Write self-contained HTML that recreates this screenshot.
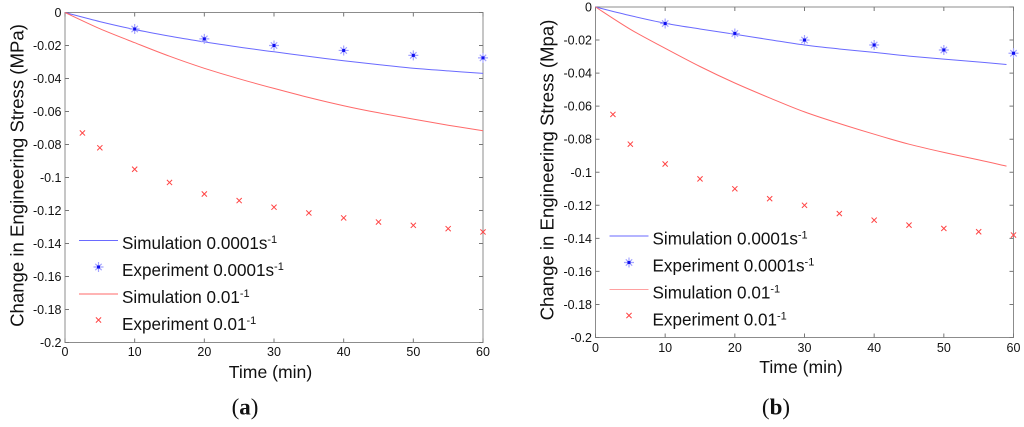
<!DOCTYPE html>
<html lang="en">
<head>
<meta charset="utf-8">
<title>Change in Engineering Stress</title>
<style>
html,body{margin:0;padding:0;background:#fff;}
svg{display:block;}
text{font-family:"Liberation Sans",sans-serif;fill:#111;}
.soft{filter:blur(0.25px);}
</style>
</head>
<body>
<svg id="chart" xmlns="http://www.w3.org/2000/svg" width="1024" height="427" viewBox="0 0 1024 427"></svg>
<script>
const xTickValues = [0, 10, 20, 30, 40, 50, 60];
const yTickValues = [0, -0.02, -0.04, -0.06, -0.08, -0.1, -0.12, -0.14, -0.16, -0.18, -0.2];
const yTickLabels = ['0', '-0.02', '-0.04', '-0.06', '-0.08', '-0.1', '-0.12', '-0.14', '-0.16', '-0.18', '-0.2'];

const simTimesA = [0, 5, 10, 15, 20, 25, 30, 35, 40, 45, 50, 55, 60];
const simSlowA = [0, -0.0055, -0.0103, -0.0143, -0.0178, -0.021, -0.0238, -0.0266, -0.0292, -0.0316, -0.0338, -0.0354, -0.0369];
const simFastA = [0, -0.0098, -0.0183, -0.0265, -0.0338, -0.0402, -0.046, -0.0515, -0.0565, -0.0608, -0.0646, -0.0683, -0.0717];
const expSlowTimesA = [10, 20, 30, 40, 50, 60];
const expSlowA = [-0.01, -0.016, -0.02, -0.023, -0.026, -0.0275];
const expFastTimesA = [2.5, 5, 10, 15, 20, 25, 30, 35, 40, 45, 50, 55, 60];
const expFastA = [-0.073, -0.082, -0.095, -0.103, -0.11, -0.114, -0.118, -0.1215, -0.1245, -0.127, -0.129, -0.131, -0.133];

const simTimesB = [0, 5, 10, 15, 20, 25, 30, 35, 40, 45, 50, 55, 59];
const simSlowB = [0, -0.0052, -0.0098, -0.0133, -0.0165, -0.0198, -0.023, -0.0254, -0.0275, -0.0297, -0.0315, -0.0333, -0.0348];
const simFastB = [0, -0.0135, -0.025, -0.036, -0.046, -0.055, -0.0635, -0.0705, -0.077, -0.083, -0.088, -0.0925, -0.0963];
const expSlowTimesB = [10, 20, 30, 40, 50, 60];
const expSlowB = [-0.01, -0.016, -0.02, -0.023, -0.026, -0.028];
const expFastTimesB = [2.5, 5, 10, 15, 20, 25, 30, 35, 40, 45, 50, 55, 60];
const expFastB = [-0.065, -0.083, -0.095, -0.104, -0.11, -0.116, -0.12, -0.125, -0.129, -0.132, -0.134, -0.136, -0.138];

const NS = 'http://www.w3.org/2000/svg';
const root = document.getElementById('chart');

function make(parent, tag, attrs, content) {
  const el = document.createElementNS(NS, tag);
  for (const k in attrs) el.setAttribute(k, attrs[k]);
  if (content !== undefined) el.textContent = content;
  parent.appendChild(el);
  return el;
}

function smoothPath(pts) {
  let d = `M${pts[0][0].toFixed(1)} ${pts[0][1].toFixed(1)}`;
  for (let i = 0; i < pts.length - 1; i++) {
    const p0 = pts[Math.max(i - 1, 0)];
    const p1 = pts[i];
    const p2 = pts[i + 1];
    const p3 = pts[Math.min(i + 2, pts.length - 1)];
    const c1x = p1[0] + (p2[0] - p0[0]) / 6;
    const c1y = p1[1] + (p2[1] - p0[1]) / 6;
    const c2x = p2[0] - (p3[0] - p1[0]) / 6;
    const c2y = p2[1] - (p3[1] - p1[1]) / 6;
    d += `C${c1x.toFixed(1)} ${c1y.toFixed(1)} ${c2x.toFixed(1)} ${c2y.toFixed(1)} ${p2[0].toFixed(1)} ${p2[1].toFixed(1)}`;
  }
  return d;
}

function drawStar(parent, cx, cy) {
  const g = make(parent, 'g', {});
  
  
  make(g, 'path', {d: `M${cx-5} ${cy}H${cx+5}M${cx} ${cy-5}V${cy+5}M${cx-3.2} ${cy-3.2}L${cx+3.2} ${cy+3.2}M${cx-3.2} ${cy+3.2}L${cx+3.2} ${cy-3.2}`, stroke: '#a4a4ff', 'stroke-width': 1.2, fill: 'none'});
  make(g, 'rect', {x: cx-1.5, y: cy-1.5, width: 3, height: 3, fill: '#1010f0'});
}

function drawCross(parent, cx, cy) {
  const p = make(parent, 'path', {d: `M${cx-2.6} ${cy-2.6}L${cx+2.6} ${cy+2.6}M${cx-2.6} ${cy+2.6}L${cx+2.6} ${cy-2.6}`, stroke: '#f44', 'stroke-width': 1, fill: 'none'});
  
  
}

function legendLabel(parent, x, y, main, name) {
  const t = make(parent, 'text', {x: x, y: y, 'font-size': 17.1});
  
  
  make(t, 'tspan', {}, main);
  make(t, 'tspan', {dy: -6, 'font-size': 11}, '-1');
}

function drawPlot(p) {
  const g = make(root, 'g', {class: 'soft'});
  
  
  const sx = v => p.left + (v / 60) * (p.right - p.left);
  const sy = v => p.top + (v / -0.2) * (p.bottom - p.top);

  const axes = make(g, 'g', {});
  
  
  make(axes, 'rect', {x: p.left, y: p.top, width: p.right - p.left, height: p.bottom - p.top, fill: 'none', stroke: '#8c8c8c', 'stroke-width': 1});

  xTickValues.forEach(v => {
    const x = sx(v);
    make(axes, 'path', {d: `M${x} ${p.bottom}v-4M${x} ${p.top}v4`, stroke: '#777', 'stroke-width': 1});
    const t = make(axes, 'text', {x: x, y: p.xTickY, 'font-size': 12.5, 'text-anchor': 'middle'}, String(v));
    
    
  });
  yTickValues.forEach((v, i) => {
    const y = sy(v);
    make(axes, 'path', {d: `M${p.left} ${y}h4M${p.right} ${y}h-4`, stroke: '#777', 'stroke-width': 1});
    const t = make(axes, 'text', {x: p.left - 3.5, y: y + 4.5, 'font-size': 12.5, 'text-anchor': 'end'}, yTickLabels[i]);
    
    
  });

  const toPts = (xs, ys) => xs.map((x, i) => [sx(x), sy(ys[i])]);
  const slowLine = make(g, 'path', {d: smoothPath(toPts(p.simTimes, p.simSlow)), fill: 'none', stroke: '#6a6aff', 'stroke-width': 1});
  
  
  const fastLine = make(g, 'path', {d: smoothPath(toPts(p.simTimes, p.simFast)), fill: 'none', stroke: '#ff6a6a', 'stroke-width': 1});
  
  

  p.expSlowTimes.forEach((x, i) => drawStar(g, sx(x), sy(p.expSlow[i])));
  p.expFastTimes.forEach((x, i) => drawCross(g, sx(x), sy(p.expFast[i])));

  const lg = make(g, 'g', {});
  
  
  const lx = p.left + 14;
  const ly = p.legendY;
  const key1 = make(lg, 'line', {x1: lx, x2: lx + 39, y1: ly, y2: ly, stroke: '#6a6aff', 'stroke-width': 1});
  
  
  drawStar(lg, lx + 19.5, ly + 26.5);
  const key3 = make(lg, 'line', {x1: lx, x2: lx + 39, y1: ly + 53.5, y2: ly + 53.5, stroke: p.fastKey, 'stroke-width': 1});
  
  
  drawCross(lg, lx + 19.5, ly + 79.5);
  legendLabel(lg, lx + 43, ly + 8.5, 'Simulation 0.0001s', 'legend-label-simulation-slow');
  legendLabel(lg, lx + 43, ly + 35.5, 'Experiment 0.0001s', 'legend-label-experiment-slow');
  legendLabel(lg, lx + 43, ly + 62.5, 'Simulation 0.01', 'legend-label-simulation-fast');
  legendLabel(lg, lx + 43, ly + 89.5, 'Experiment 0.01', 'legend-label-experiment-fast');

  const xt = make(g, 'text', {x: p.xTitleX, y: p.xTitleY, 'font-size': 17.6, 'text-anchor': 'middle'}, 'Time (min)');
  
  
  const yt = make(g, 'text', {x: 0, y: 0, 'font-size': 18.6, 'text-anchor': 'middle', transform: `translate(${p.yTitleX} ${p.yTitleY}) rotate(-90)`}, p.yTitle);
  
  

  const cap = make(g, 'text', {x: p.capX, y: 414.5, 'font-size': 23, 'text-anchor': 'middle', style: 'font-family:"Liberation Serif",serif'});
  
  
  make(cap, 'tspan', {}, '(');
  make(cap, 'tspan', {'font-weight': 'bold'}, p.capLetter);
  make(cap, 'tspan', {}, ')');
}

drawPlot({
  name: 'panel-a', left: 65, right: 483, top: 12.5, bottom: 342.5,
  simTimes: simTimesA, simSlow: simSlowA, simFast: simFastA,
  expSlowTimes: expSlowTimesA, expSlow: expSlowA, expFastTimes: expFastTimesA, expFast: expFastA,
  xTickY: 356, legendY: 240.5, fastKey: '#ff6a6a',
  xTitleX: 270.5, xTitleY: 378, yTitleX: 23.5, yTitleY: 175.5,
  yTitle: 'Change in Engineering Stress (MPa)', capX: 245, capLetter: 'a'
});
drawPlot({
  name: 'panel-b', left: 595.5, right: 1013.5, top: 7, bottom: 337.5,
  simTimes: simTimesB, simSlow: simSlowB, simFast: simFastB,
  expSlowTimes: expSlowTimesB, expSlow: expSlowB, expFastTimes: expFastTimesB, expFast: expFastB,
  xTickY: 352, legendY: 236, fastKey: '#ffa0a0',
  xTitleX: 801, xTitleY: 373, yTitleX: 553.5, yTitleY: 170,
  yTitle: 'Change in Engineering Stress (Mpa)', capX: 776, capLetter: 'b'
});
</script>
</body>
</html>
